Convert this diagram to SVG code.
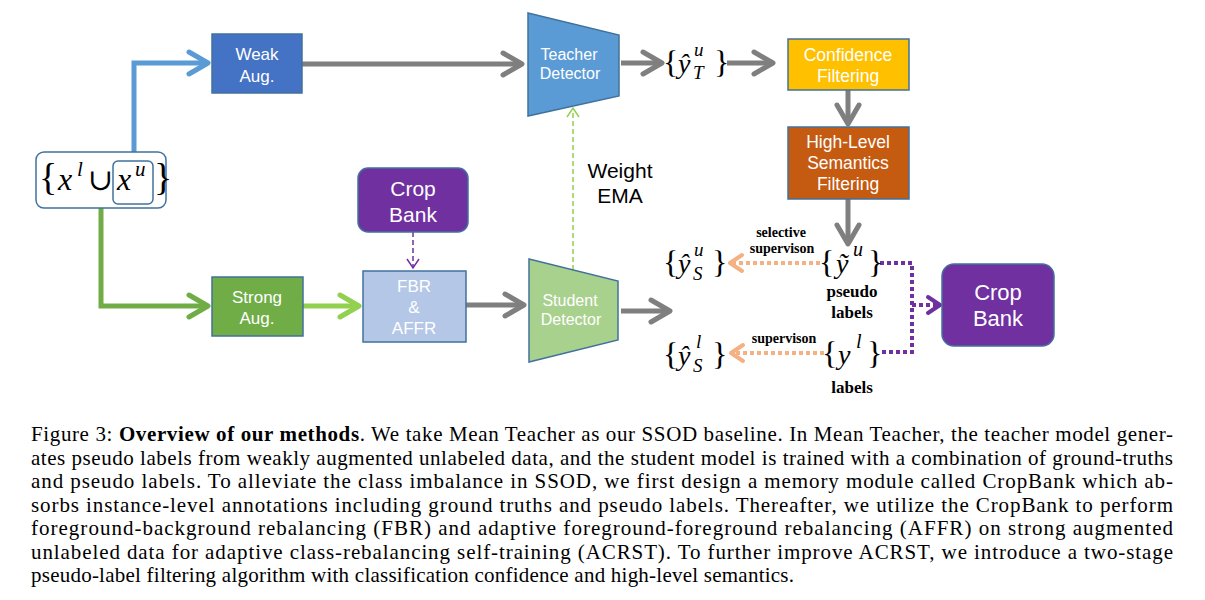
<svg xmlns="http://www.w3.org/2000/svg" width="1205" height="600" viewBox="0 0 1205 600">
<style>
.box{stroke:#41719C;stroke-width:1.5}
.nt{font-family:"Liberation Sans",Arial,sans-serif;fill:#fff;text-anchor:middle}
.m{font-family:"Liberation Serif","DejaVu Serif","Times New Roman",serif;fill:#000}
.mi{font-family:"Liberation Serif","DejaVu Serif","Times New Roman",serif;font-style:italic;fill:#000}
.lb{font-family:"Liberation Serif","Times New Roman",serif;font-weight:bold;fill:#000;text-anchor:middle}
.cap{font-family:"Liberation Serif","Times New Roman",serif;font-size:21px;fill:#000}
.thick{fill:none;stroke-width:5}
</style>
<defs>
<marker id="aGray" markerUnits="userSpaceOnUse" markerWidth="30" markerHeight="30" viewBox="0 0 30 30" refX="25" refY="15" orient="auto"><path d="M6,4 L25,15 L6,26" fill="none" stroke="#7F7F7F" stroke-width="5" stroke-linecap="round" stroke-linejoin="round"/></marker>
<marker id="aBlue" markerUnits="userSpaceOnUse" markerWidth="30" markerHeight="30" viewBox="0 0 30 30" refX="25" refY="15" orient="auto"><path d="M6,4 L25,15 L6,26" fill="none" stroke="#5B9BD5" stroke-width="5" stroke-linecap="round" stroke-linejoin="round"/></marker>
<marker id="aGreen" markerUnits="userSpaceOnUse" markerWidth="30" markerHeight="30" viewBox="0 0 30 30" refX="25" refY="15" orient="auto"><path d="M6,4 L25,15 L6,26" fill="none" stroke="#70AD47" stroke-width="5" stroke-linecap="round" stroke-linejoin="round"/></marker>
<marker id="aLGreen" markerUnits="userSpaceOnUse" markerWidth="30" markerHeight="30" viewBox="0 0 30 30" refX="25" refY="15" orient="auto"><path d="M6,4 L25,15 L6,26" fill="none" stroke="#92D050" stroke-width="5" stroke-linecap="round" stroke-linejoin="round"/></marker>
<marker id="aThinPurple" markerUnits="userSpaceOnUse" markerWidth="16" markerHeight="16" viewBox="0 0 16 16" refX="13" refY="8" orient="auto"><path d="M4,2 L13,8 L4,14" fill="none" stroke="#7030A0" stroke-width="1.5"/></marker>
<marker id="aThinGreen" markerUnits="userSpaceOnUse" markerWidth="16" markerHeight="16" viewBox="0 0 16 16" refX="13" refY="8" orient="auto"><path d="M4,2 L13,8 L4,14" fill="none" stroke="#92D050" stroke-width="1.5"/></marker>
<marker id="aOrange" markerUnits="userSpaceOnUse" markerWidth="24" markerHeight="24" viewBox="0 0 24 24" refX="20" refY="12" orient="auto"><path d="M8,4 L20,12 L8,20" fill="none" stroke="#F4B183" stroke-width="4" stroke-linecap="round" stroke-linejoin="round"/></marker>
<marker id="aPurple" markerUnits="userSpaceOnUse" markerWidth="24" markerHeight="24" viewBox="0 0 24 24" refX="20" refY="12" orient="auto"><path d="M8,4 L20,12 L8,20" fill="none" stroke="#7030A0" stroke-width="4" stroke-linecap="round" stroke-linejoin="round"/></marker>
</defs>
<rect width="1205" height="600" fill="#fff"/>

<g id="connectors">
<path class="thick" d="M134,161 V63 H208" stroke="#5B9BD5" marker-end="url(#aBlue)"/>
<path class="thick" d="M101,208 V306 H208" stroke="#70AD47" marker-end="url(#aGreen)"/>
<path class="thick" d="M303,306 H359" stroke="#92D050" marker-end="url(#aLGreen)"/>
<path class="thick" d="M302,64 H522" stroke="#7F7F7F" marker-end="url(#aGray)"/>
<path class="thick" d="M621,63 H662" stroke="#7F7F7F" marker-end="url(#aGray)"/>
<path class="thick" d="M727,63 H773" stroke="#7F7F7F" marker-end="url(#aGray)"/>
<path class="thick" d="M848,90 V124" stroke="#7F7F7F" marker-end="url(#aGray)"/>
<path class="thick" d="M848,199 V244" stroke="#7F7F7F" marker-end="url(#aGray)"/>
<path class="thick" d="M466,305 H524" stroke="#7F7F7F" marker-end="url(#aGray)"/>
<path class="thick" d="M621,311 H670" stroke="#7F7F7F" marker-end="url(#aGray)"/>
<path d="M413,232 V268" fill="none" stroke="#7030A0" stroke-width="1.5" stroke-dasharray="5,3" marker-end="url(#aThinPurple)"/>
<path d="M573,270 V108" fill="none" stroke="#92D050" stroke-width="1.5" stroke-dasharray="5,3" marker-end="url(#aThinGreen)"/>
<path d="M820,263 H730" fill="none" stroke="#F4B183" stroke-width="4" stroke-dasharray="4,3" marker-end="url(#aOrange)"/>
<path d="M824,353 H731" fill="none" stroke="#F4B183" stroke-width="4" stroke-dasharray="4,3" marker-end="url(#aOrange)"/>
<path d="M880,263 H912 V352 H880" fill="none" stroke="#7030A0" stroke-width="4" stroke-dasharray="4,3"/>
<path d="M912,305 H940" fill="none" stroke="#7030A0" stroke-width="4" stroke-dasharray="4,3" marker-end="url(#aPurple)"/>
</g>

<g id="input">
<rect x="36" y="152" width="130" height="56" rx="8" fill="#fff" stroke="#41719C" stroke-width="1.5"/>
<rect x="113" y="161" width="40" height="43" rx="5" fill="none" stroke="#41719C" stroke-width="1.5"/>
<text class="m" x="39" y="190" font-size="38">{</text>
<text class="mi" x="58" y="190" font-size="32">x</text>
<text class="mi" x="77" y="176" font-size="21">l</text>
<text class="m" x="88" y="190" font-size="30">∪</text>
<text class="mi" x="117" y="190" font-size="32">x</text>
<text class="mi" x="135" y="176" font-size="21">u</text>
<text class="m" x="154" y="190" font-size="38">}</text>
</g>

<g id="weak-aug">
<rect class="box" x="212" y="34" width="90" height="59" fill="#4472C4"/>
<text class="nt" x="257" y="60" font-size="17">Weak</text>
<text class="nt" x="257" y="82" font-size="17">Aug.</text>
</g>

<g id="teacher-detector">
<polygon class="box" points="528,13 619,35 619,96 528,116" fill="#5B9BD5"/>
<text class="nt" x="569" y="60" font-size="16">Teacher</text>
<text class="nt" x="570" y="79" font-size="16">Detector</text>
</g>

<g id="y-teacher">
<text class="m" x="663" y="73" font-size="32">{</text>
<text class="mi" x="678" y="73" font-size="28">ŷ</text>
<text class="mi" x="694" y="56" font-size="19">u</text>
<text class="mi" x="693" y="79" font-size="19">T</text>
<text class="m" x="714" y="73" font-size="32">}</text>
</g>

<g id="confidence-filtering">
<rect class="box" x="788" y="39" width="121" height="51" fill="#FFC000"/>
<text class="nt" x="848" y="61" font-size="17.5">Confidence</text>
<text class="nt" x="848" y="82" font-size="17.5">Filtering</text>
</g>

<g id="high-level-filtering">
<rect class="box" x="788" y="127" width="121" height="72" fill="#C55A11"/>
<text class="nt" x="848" y="148" font-size="17.5">High-Level</text>
<text class="nt" x="848" y="169" font-size="17.5">Semantics</text>
<text class="nt" x="848" y="190" font-size="17.5">Filtering</text>
</g>

<g id="crop-bank-left">
<rect x="358" y="168" width="110" height="64" rx="10" fill="#7030A0" stroke="#41719C" stroke-width="1.5"/>
<text class="nt" x="413" y="196" font-size="21">Crop</text>
<text class="nt" x="413" y="222" font-size="21">Bank</text>
</g>

<g id="strong-aug">
<rect class="box" x="212" y="277" width="91" height="59" fill="#70AD47"/>
<text class="nt" x="257" y="303" font-size="17">Strong</text>
<text class="nt" x="257" y="324" font-size="17">Aug.</text>
</g>

<g id="fbr-affr">
<rect class="box" x="363" y="271" width="103" height="71" fill="#B4C7E7"/>
<text class="nt" x="414" y="292" font-size="17">FBR</text>
<text class="nt" x="414" y="313" font-size="17">&amp;</text>
<text class="nt" x="414" y="334" font-size="17">AFFR</text>
</g>

<g id="student-detector">
<polygon class="box" points="529,259 618,281 618,340 529,362" fill="#A9D18E"/>
<text class="nt" x="570" y="306" font-size="16">Student</text>
<text class="nt" x="571" y="325" font-size="16">Detector</text>
</g>

<g id="weight-ema">
<text x="620" y="178" font-family="Liberation Sans,Arial,sans-serif" font-size="21" text-anchor="middle">Weight</text>
<text x="620" y="203" font-family="Liberation Sans,Arial,sans-serif" font-size="21" text-anchor="middle">EMA</text>
</g>

<g id="y-student-u">
<text class="m" x="663" y="273" font-size="32">{</text>
<text class="mi" x="678" y="273" font-size="28">ŷ</text>
<text class="mi" x="694" y="256" font-size="19">u</text>
<text class="mi" x="693" y="280" font-size="19">S</text>
<text class="m" x="712" y="273" font-size="32">}</text>
</g>

<g id="y-student-l">
<text class="m" x="663" y="365" font-size="32">{</text>
<text class="mi" x="678" y="365" font-size="28">ŷ</text>
<text class="mi" x="696" y="348" font-size="19">l</text>
<text class="mi" x="693" y="372" font-size="19">S</text>
<text class="m" x="712" y="365" font-size="32">}</text>
</g>

<g id="pseudo-labels">
<text class="m" x="819" y="273" font-size="32">{</text>
<text class="mi" x="836" y="273" font-size="28">ỹ</text>
<text class="mi" x="853" y="256" font-size="20">u</text>
<text class="m" x="868" y="273" font-size="32">}</text>
<text class="lb" x="852" y="297" font-size="17">pseudo</text>
<text class="lb" x="852" y="318" font-size="17">labels</text>
</g>

<g id="gt-labels">
<text class="m" x="822" y="364" font-size="32">{</text>
<text class="mi" x="838" y="364" font-size="28">y</text>
<text class="mi" x="856" y="348" font-size="20">l</text>
<text class="m" x="867" y="364" font-size="32">}</text>
<text class="lb" x="852" y="393" font-size="17">labels</text>
</g>

<g id="supervision-labels">
<text class="lb" x="781" y="237" font-size="14">selective</text>
<text class="lb" x="782" y="253" font-size="14">supervison</text>
<text class="lb" x="784" y="343" font-size="14">supervison</text>
</g>

<g id="crop-bank-right">
<rect x="942" y="264" width="112" height="82" rx="12" fill="#7030A0" stroke="#41719C" stroke-width="1.5"/>
<text class="nt" x="998" y="300" font-size="22">Crop</text>
<text class="nt" x="998" y="326" font-size="22">Bank</text>
</g>

<g id="caption">
<text class="cap" x="31" y="441" textLength="1142" lengthAdjust="spacing">Figure 3: <tspan font-weight="bold">Overview of our methods</tspan>. We take Mean Teacher as our SSOD baseline. In Mean Teacher, the teacher model gener-</text>
<text class="cap" x="31" y="464.5" textLength="1142" lengthAdjust="spacing">ates pseudo labels from weakly augmented unlabeled data, and the student model is trained with a combination of ground-truths</text>
<text class="cap" x="31" y="488" textLength="1142" lengthAdjust="spacing">and pseudo labels. To alleviate the class imbalance in SSOD, we first design a memory module called CropBank which ab-</text>
<text class="cap" x="31" y="511.5" textLength="1142" lengthAdjust="spacing">sorbs instance-level annotations including ground truths and pseudo labels. Thereafter, we utilize the CropBank to perform</text>
<text class="cap" x="31" y="535" textLength="1142" lengthAdjust="spacing">foreground-background rebalancing (FBR) and adaptive foreground-foreground rebalancing (AFFR) on strong augmented</text>
<text class="cap" x="31" y="558.5" textLength="1142" lengthAdjust="spacing">unlabeled data for adaptive class-rebalancing self-training (ACRST). To further improve ACRST, we introduce a two-stage</text>
<text class="cap" x="31" y="582" textLength="763" lengthAdjust="spacing">pseudo-label filtering algorithm with classification confidence and high-level semantics.</text>
</g>
</svg>
